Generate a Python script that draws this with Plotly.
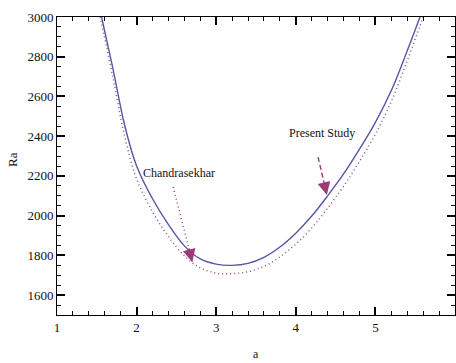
import plotly.graph_objects as go

# Present Study (solid)
a_present = [1.56, 1.70, 1.85, 2.0, 2.2, 2.4, 2.6, 2.8, 3.0, 3.2, 3.4, 3.6, 3.8, 4.0, 4.2, 4.4, 4.6, 4.8, 5.0, 5.2, 5.4, 5.56]
ra_present = [3000, 2745, 2455, 2250, 2085, 1955, 1848, 1782, 1756, 1750, 1760, 1790, 1842, 1912, 1998, 2100, 2210, 2335, 2470, 2630, 2830, 3000]

# Chandrasekhar (dotted)
a_chandra = [1.54, 1.56, 1.70, 1.85, 2.0, 2.2, 2.4, 2.6, 2.8, 3.0, 3.2, 3.4, 3.6, 3.8, 4.0, 4.2, 4.4, 4.6, 4.8, 5.0, 5.2, 5.4, 5.56, 5.6]
ra_chandra = [3000, 2965, 2700, 2400, 2185, 2020, 1895, 1798, 1737, 1711, 1708, 1718, 1745, 1792, 1857, 1938, 2038, 2148, 2273, 2410, 2575, 2780, 2955, 3000]

x_ticks = [1, 2, 3, 4, 5, 6]
y_ticks = [1600, 1800, 2000, 2200, 2400, 2600, 2800, 3000]
x_range = [1, 6]
y_range = [1500, 3000]

# annotation anchors (label position, arrow tail, arrow tip)
present_label = (4.33, 2416)
present_tail = (4.28, 2295)
present_tip = (4.39, 2104)
chandra_label = (2.53, 2215)
chandra_tail = (2.46, 2144)
chandra_tip = (2.70, 1767)

serif = "Liberation Serif, Times New Roman, serif"
arrow_col = "#9b3a74"

fig = go.Figure()
fig.add_trace(go.Scatter(x=a_chandra, y=ra_chandra, mode="lines",
                         line=dict(color="#a04a86", width=1.5, dash="1px,3px", shape="spline"), showlegend=False))
fig.add_trace(go.Scatter(x=a_present, y=ra_present, mode="lines",
                         line=dict(color="#5656a6", width=1.4, shape="spline"), showlegend=False))

# arrow shafts
fig.add_trace(go.Scatter(x=[present_tail[0], present_tip[0]], y=[present_tail[1], present_tip[1]], mode="lines",
                         line=dict(color=arrow_col, width=1.4, dash="5px,3px"), showlegend=False))
fig.add_trace(go.Scatter(x=[chandra_tail[0], chandra_tip[0]], y=[chandra_tail[1], chandra_tip[1]], mode="lines",
                         line=dict(color=arrow_col, width=1.5, dash="1px,3px"), showlegend=False))

def head(tail, tip):
    fx = tail[0] + (tip[0] - tail[0]) * 0.8
    fy = tail[1] + (tip[1] - tail[1]) * 0.8
    fig.add_annotation(x=tip[0], y=tip[1], ax=fx, ay=fy, axref="x", ayref="y", xref="x", yref="y",
                       text="", showarrow=True, arrowhead=2, arrowsize=1.6, arrowwidth=1.6, arrowcolor=arrow_col)

head(present_tail, present_tip)
head(chandra_tail, chandra_tip)

fig.add_annotation(x=present_label[0], y=present_label[1], text="Present Study", showarrow=False,
                   font=dict(family=serif, size=12, color="#111"))
fig.add_annotation(x=chandra_label[0], y=chandra_label[1], text="Chandrasekhar", showarrow=False,
                   font=dict(family=serif, size=12, color="#111"))

# axis titles
fig.add_annotation(x=0, xref="paper", y=0.52, yref="paper", xshift=-45, xanchor="center", yanchor="middle",
                   text="Ra", textangle=-90, showarrow=False, font=dict(family=serif, size=13, color="#111"))
fig.add_annotation(x=0.5, xref="paper", y=0, yref="paper", yshift=-39, xanchor="center", yanchor="middle",
                   text="a", showarrow=False, font=dict(family=serif, size=12, color="#111"))

fig.update_layout(
    width=456, height=363, margin=dict(l=57, r=1, t=17, b=48),
    paper_bgcolor="white", plot_bgcolor="white",
    xaxis=dict(range=x_range, tickmode="array", tickvals=x_ticks,
               ticks="inside", ticklen=8, tickwidth=1.5, tickcolor="#000000",
               showline=True, linecolor="#000000", linewidth=1, mirror="ticks",
               showgrid=False, zeroline=False,
               tickfont=dict(family=serif, size=13, color="#111"),
               minor=dict(tickmode="linear", tick0=1, dtick=0.2, ticks="inside", ticklen=4,
                          tickwidth=1.2, tickcolor="#000000", showgrid=False)),
    yaxis=dict(range=y_range, tickmode="array", tickvals=y_ticks,
               ticks="inside", ticklen=8, tickwidth=1.5, tickcolor="#000000",
               showline=True, linecolor="#000000", linewidth=1, mirror="ticks",
               showgrid=False, zeroline=False,
               tickfont=dict(family=serif, size=13, color="#111"),
               minor=dict(tickmode="linear", tick0=1500, dtick=50, ticks="inside", ticklen=4,
                          tickwidth=1.2, tickcolor="#000000", showgrid=False)),
)

fig.write_html("out.html")
